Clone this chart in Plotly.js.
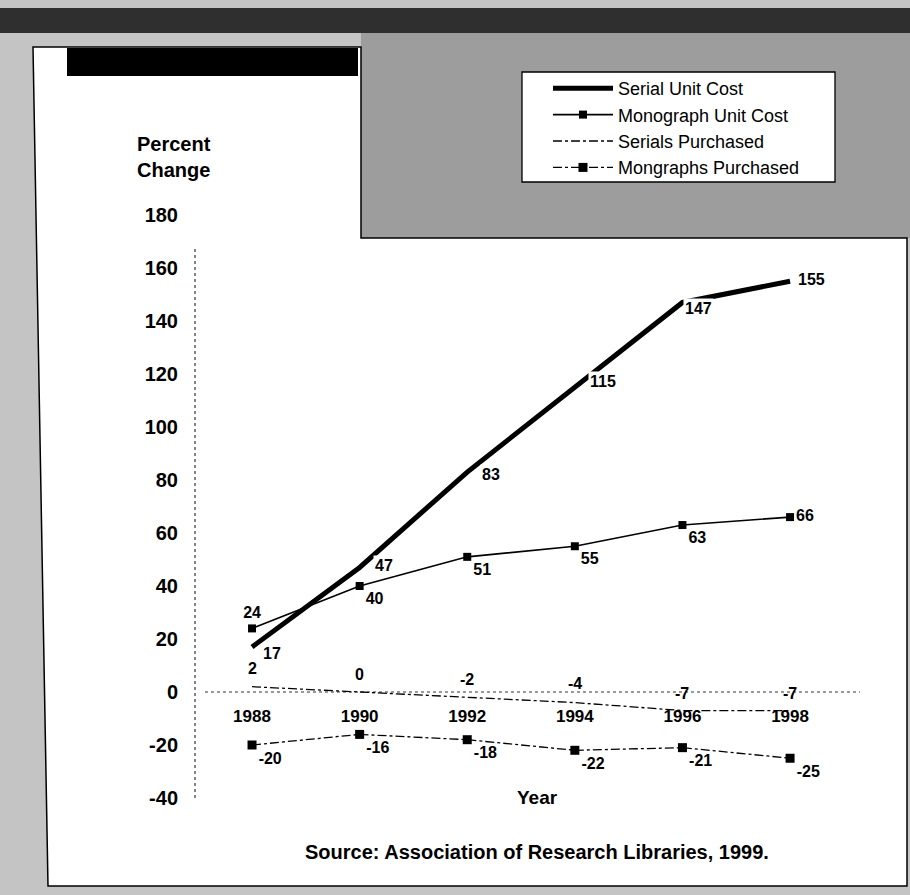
<!DOCTYPE html>
<html>
<head>
<meta charset="utf-8">
<script src="https://cdn.plot.ly/plotly-3.0.1.min.js"></script>
<style>
html,body{margin:0;padding:0;background:#fff;}
#chart{width:910px;height:895px;}
</style>
</head>
<body>
<div id="chart"></div>
<script>
// ---- data ----
const years = [1988, 1990, 1992, 1994, 1996, 1998];
const serialUnitCost = [17, 47, 83, 115, 147, 155];
const monographUnitCost = [24, 40, 51, 55, 63, 66];
const serialsPurchased = [2, 0, -2, -4, -7, -7];
const monographsPurchased = [-20, -16, -18, -22, -21, -25];
const yTicks = [-40, -20, 0, 20, 40, 60, 80, 100, 120, 140, 160, 180];
const seriesNames = ["Serial Unit Cost", "Monograph Unit Cost", "Serials Purchased", "Mongraphs Purchased"];

// ---- layout geometry ----
const W = 910, H = 895, ML = 195, MR = 50, MT = 215, MB = 97;
const PW = W - ML - MR, PH = H - MT - MB;
const px = x => (x - ML) / PW;
const py = y => (H - MB - y) / PH;
const yMin = -40, yMax = 180;

const FONT = "Liberation Sans, Arial, Helvetica, sans-serif";
const labelFont = {family: FONT, size: 16, color: "#000", weight: "bold"};

// label offsets (pixels) for value labels drawn as annotations
const serialLabelShift = [[20, -7], [24, 2], [24, -2], [28, 6], [16, -6], [21, 2]];
const serialsPurchLabelShift = [[0, 18], [0, 18], [0, 18], [0, 19], [0, 17], [0, 17]];

function pathFromPixels(pts) {
  return "M " + pts.map(p => px(p[0]).toFixed(5) + "," + py(p[1]).toFixed(5)).join(" L ") + " Z";
}
function rectPx(x0, y0, x1, y1, fill, lineColor, lineWidth) {
  return {type: "rect", xref: "paper", yref: "paper", layer: "below",
    x0: px(x0), x1: px(x1), y0: py(y1), y1: py(y0),
    fillcolor: fill, line: {color: lineColor || fill, width: lineWidth || 0}};
}

const traces = [
  {
    name: seriesNames[0], x: years, y: serialUnitCost,
    mode: "lines", type: "scatter",
    line: {color: "#000", width: 5}
  },
  {
    name: seriesNames[1], x: years, y: monographUnitCost,
    mode: "lines+markers+text", type: "scatter",
    line: {color: "#000", width: 1.6},
    marker: {symbol: "square", size: 8, color: "#000"},
    text: monographUnitCost.map(String),
    textposition: ["top center", "bottom right", "bottom right", "bottom right", "bottom right", "middle right"],
    textfont: labelFont, cliponaxis: false
  },
  {
    name: seriesNames[2], x: years, y: serialsPurchased,
    mode: "lines", type: "scatter",
    line: {color: "#000", width: 1.3, dash: "dashdot"}
  },
  {
    name: seriesNames[3], x: years, y: monographsPurchased,
    mode: "lines+markers+text", type: "scatter",
    line: {color: "#000", width: 1.3, dash: "dashdot"},
    marker: {symbol: "square", size: 9, color: "#000"},
    text: monographsPurchased.map(String),
    textposition: ["bottom right", "bottom right", "bottom right", "bottom right", "bottom right", "bottom right"],
    textfont: labelFont, cliponaxis: false
  }
];

const shapes = [
  // scanned page surround
  rectPx(0, 0, 910, 895, "#c4c4c4"),
  rectPx(0, 8, 910, 33, "#2f2f2f"),
  rectPx(361, 33, 910, 238, "#9d9d9d"),
  // white panel with border
  {type: "path", xref: "paper", yref: "paper", layer: "below",
   path: pathFromPixels([[33, 47], [361, 47], [361, 238], [907, 238], [907, 886], [48, 886]]),
   fillcolor: "#ffffff", line: {color: "#000", width: 1.5}},
  // redacted title bar
  rectPx(67, 48, 358, 76, "#000000"),
  // legend box
  rectPx(522, 72, 835, 182, "#ffffff", "#000000", 1.3),
  // dotted y axis line
  {type: "line", xref: "paper", yref: "y", layer: "below",
   x0: 0, x1: 0, y0: yMin, y1: 168, line: {color: "#333", width: 1.2, dash: "dot"}},
  // dotted zero line
  {type: "line", xref: "paper", yref: "y", layer: "below",
   x0: 0.015, x1: 1, y0: 0, y1: 0, line: {color: "#333", width: 1.2, dash: "dot"}}
];

const annotations = [
  {xref: "paper", yref: "paper", x: px(135), y: py(157), xanchor: "left", yanchor: "middle",
   text: "Percent<br>Change", align: "left", showarrow: false,
   font: {family: FONT, size: 20, color: "#000", weight: "bold"}},
  {xref: "paper", yref: "paper", x: px(537), y: py(797), xanchor: "center", yanchor: "middle",
   text: "Year", showarrow: false,
   font: {family: FONT, size: 19, color: "#000", weight: "bold"}},
  {xref: "paper", yref: "paper", x: px(537), y: py(852), xanchor: "center", yanchor: "middle",
   text: "Source: Association of Research Libraries, 1999.", showarrow: false,
   font: {family: FONT, size: 20, color: "#000", weight: "bold"}}
];
// value labels for Serial Unit Cost (white box breaks the thick line like the original)
years.forEach((yr, i) => {
  annotations.push({x: yr, y: serialUnitCost[i], xref: "x", yref: "y",
    text: String(serialUnitCost[i]), showarrow: false,
    xshift: serialLabelShift[i][0], yshift: serialLabelShift[i][1],
    bgcolor: "#ffffff", borderpad: 1, font: labelFont});
});
// value labels for Serials Purchased
years.forEach((yr, i) => {
  annotations.push({x: yr, y: serialsPurchased[i], xref: "x", yref: "y",
    text: String(serialsPurchased[i]), showarrow: false,
    xshift: serialsPurchLabelShift[i][0], yshift: serialsPurchLabelShift[i][1],
    font: labelFont});
});

const layout = {
  width: W, height: H,
  margin: {l: ML, r: MR, t: MT, b: MB, pad: 0},
  paper_bgcolor: "#ffffff", plot_bgcolor: "rgba(0,0,0,0)",
  showlegend: true,
  legend: {
    x: px(548), y: py(70), xanchor: "left", yanchor: "top",
    bgcolor: "rgba(0,0,0,0)", borderwidth: 0,
    font: {family: FONT, size: 18, color: "#000"},
    itemwidth: 60, tracegroupgap: 0, traceorder: "normal"
  },
  xaxis: {
    range: [1986.94, 1999.3], anchor: "free", position: (0 - yMin) / (yMax - yMin),
    showgrid: false, zeroline: false, showline: false, ticks: "",
    tickvals: years, ticktext: years.map(String), ticklabelstandoff: 12,
    tickfont: {family: FONT, size: 17, color: "#000", weight: "bold"},
    fixedrange: true
  },
  yaxis: {
    range: [yMin, yMax], showgrid: false, zeroline: false, showline: false, ticks: "",
    tickvals: yTicks, ticktext: yTicks.map(String), ticklabelstandoff: 16,
    tickfont: {family: FONT, size: 20, color: "#000", weight: "bold"},
    fixedrange: true
  },
  shapes: shapes,
  annotations: annotations
};

Plotly.newPlot("chart", traces, layout, {displayModeBar: false, staticPlot: true});
</script>
</body>
</html>
